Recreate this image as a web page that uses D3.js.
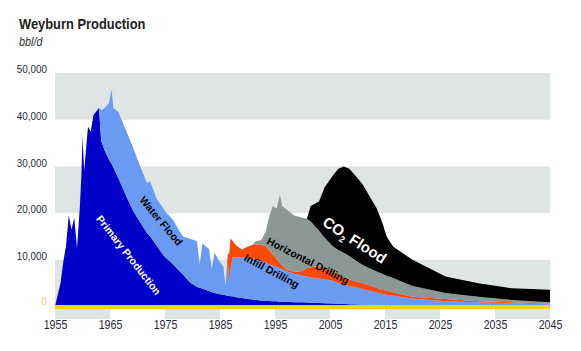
<!DOCTYPE html>
<html>
<head>
<meta charset="utf-8">
<script src="https://cdn.jsdelivr.net/npm/d3@7"></script>
<style>
  body { margin: 0; background: #fff; }
  svg { display: block; }
</style>
</head>
<body>
<svg class="chart" width="581" height="351"></svg>
<script>
// years (irregular, follows the jagged outline)
const years = [
  1955, 1956, 1956.5, 1957, 1957.5, 1958, 1958.5, 1959, 1959.5, 1959.8,
  1960, 1960.3, 1961, 1961.5, 1962, 1963, 1963.4, 1964, 1964.8, 1965.3,
  1965.6, 1966.5, 1968, 1969.2, 1970.5, 1971.7, 1972.3, 1973.5, 1974.7, 1975.3,
  1976.5, 1977.7, 1978.3, 1979.5, 1980.8, 1981.3, 1981.8, 1983, 1983.5, 1984,
  1985, 1985.6, 1986, 1986.4, 1986.7, 1986.9, 1987.3, 1988, 1989, 1990,
  1991, 1991.5, 1992.5, 1993.3, 1994, 1994.6, 1995.3, 1995.9, 1996.3, 1997,
  1998.5, 2000, 2000.8, 2001.5, 2003, 2004, 2005.5, 2006.5, 2007.5, 2008.5,
  2010, 2011, 2012, 2013.5, 2014.5, 2015.3, 2016.5, 2020, 2026, 2032,
  2038, 2045
];

// bbl/d per layer (stacked bottom to top)
const primary = [
  0, 5000, 9500, 13000, 19500, 16500, 19000, 12500, 21000, 28000,
  36500, 29000, 38500, 37500, 41000, 42500, 35500, 33500, 31500, 30500,
  29800, 27500, 23500, 20500, 18000, 15800, 15000, 13000, 11000, 10300,
  9000, 7500, 6800, 5200, 4200, 4000, 3800, 3300, 3100, 2900,
  2600, 2500, 2400, 2300, 2300, 2200, 2200, 2000, 1800, 1600,
  1500, 1400, 1300, 1200, 1200, 1100, 1100, 1000, 1000, 1000,
  900, 900, 850, 800, 750, 700, 650, 600, 550, 500,
  450, 400, 350, 300, 280, 250, 220, 150, 80, 40,
  20, 0
];
const waterFlood = [
  0, 0, 0, 0, 0, 0, 0, 0, 0, 0,
  0, 0, 0, 0, 0, 0, 6500, 9000, 12000, 16000,
  12700, 14200, 14000, 13500, 12000, 10700, 11800, 10000, 10000, 9700,
  9500, 8500, 8200, 9300, 9800, 5000, 9700, 9000, 4900, 8600,
  6900, 6100, 2100, 7200, 3200, 5800, 8300, 8500, 8700, 8800,
  8800, 8700, 8400, 8200, 7800, 7700, 7400, 7200, 7000, 6600,
  6100, 5700, 5550, 5400, 5250, 5100, 4850, 4400, 4150, 3900,
  3550, 3300, 3050, 2700, 2420, 2250, 2080, 1550, 1020, 860,
  680, 500
];
const infillDrilling = [
  0, 0, 0, 0, 0, 0, 0, 0, 0, 0,
  0, 0, 0, 0, 0, 0, 0, 0, 0, 0,
  0, 0, 0, 0, 0, 0, 0, 0, 0, 0,
  0, 0, 0, 0, 0, 0, 0, 0, 0, 0,
  0, 0, 0, 1500, 6000, 6600, 3500, 2500, 1700, 2400,
  3000, 3200, 3500, 3500, 3000, 2400, 1700, 1100, 800, 400,
  400, 1000, 1800, 2200, 2600, 2400, 2100, 1800, 1600, 1400,
  1300, 1300, 1200, 1000, 900, 900, 700, 400, 500, 200,
  200, 100
];
const horizontalDrilling = [
  0, 0, 0, 0, 0, 0, 0, 0, 0, 0,
  0, 0, 0, 0, 0, 0, 0, 0, 0, 0,
  0, 0, 0, 0, 0, 0, 0, 0, 0, 0,
  0, 0, 0, 0, 0, 0, 0, 0, 0, 0,
  0, 0, 0, 0, 0, 0, 0, 0, 0, 0,
  0, 700, 1000, 3100, 7500, 10300, 10800, 14700, 12700, 12800,
  12100, 11400, 10600, 9800, 7600, 6600, 5300, 5300, 5200, 5000,
  4300, 3900, 3700, 3500, 3400, 3200, 3100, 2300, 1300, 1000,
  500, 300
];
const co2Flood = [
  0, 0, 0, 0, 0, 0, 0, 0, 0, 0,
  0, 0, 0, 0, 0, 0, 0, 0, 0, 0,
  0, 0, 0, 0, 0, 0, 0, 0, 0, 0,
  0, 0, 0, 0, 0, 0, 0, 0, 0, 0,
  0, 0, 0, 0, 0, 0, 0, 0, 0, 0,
  0, 0, 0, 0, 0, 0, 0, 0, 0, 0,
  0, 0, 0, 3300, 6300, 10700, 15100, 17400, 18500, 18700,
  17900, 17100, 15700, 13500, 11000, 8400, 6700, 5600, 3500, 2900,
  2500, 2700
];

const xTicks = [1955, 1965, 1975, 1985, 1995, 2005, 2015, 2025, 2035, 2045];
const yTicks = [0, 10000, 20000, 30000, 40000, 50000];

const keys = ["primary", "waterFlood", "infill", "horizontal", "co2"];
const colors = ["#0000c8", "#6a9bf2", "#fa4a0a", "#8c9896", "#000000"];

const table = years.map((yr, i) => ({
  year: yr,
  primary: primary[i],
  waterFlood: waterFlood[i],
  infill: infillDrilling[i],
  horizontal: horizontalDrilling[i],
  co2: co2Flood[i],
}));

const svg = d3.select(".chart");
const font = "'Liberation Sans', Arial, sans-serif";
const band = "#dfe5e4";

const x = d3.scaleLinear().domain([1955, 2045]).range([55, 550]);
const y = d3.scaleLinear().domain([0, 50000]).range([306.5, 73]);

// horizontal grey bands 0-10k, 20-30k, 40-50k
svg.append("g")
  .selectAll("rect")
  .data([0, 20000, 40000])
  .join("rect")
  .attr("x", x(1955))
  .attr("width", x(2045) - x(1955))
  .attr("y", (d) => y(d + 10000))
  .attr("height", (d) => y(d) - y(d + 10000))
  .attr("fill", band);

// little alternating boxes under the baseline
svg.append("g")
  .selectAll("rect")
  .data([1955, 1975, 1995, 2015, 2035])
  .join("rect")
  .attr("x", (d) => x(d))
  .attr("width", (d) => x(d + 10) - x(d))
  .attr("y", 309)
  .attr("height", 10)
  .attr("fill", band);

// stacked areas
const series = d3.stack().keys(keys)(table);
const area = d3.area()
  .x((d) => x(d.data.year))
  .y0((d) => y(d[0]))
  .y1((d) => y(d[1]))
  .curve(d3.curveLinear);

svg.append("g")
  .selectAll("path")
  .data(series)
  .join("path")
  .attr("d", area)
  .attr("fill", (d, i) => colors[i]);

// yellow zero line
svg.append("rect")
  .attr("x", x(1955))
  .attr("width", x(2045) - x(1955))
  .attr("y", y(0) - 1.5)
  .attr("height", 4)
  .attr("fill", "#f7d400");

// axes (text squeezed a bit, the original uses a narrow face)
const xAxis = svg.append("g")
  .attr("transform", `translate(0, 318)`)
  .call(d3.axisBottom(x).tickValues(xTicks).tickFormat(d3.format("d")).tickSize(0));
xAxis.select(".domain").remove();
xAxis.selectAll("text")
  .attr("dy", "0.71em")
  .attr("y", 2)
  .attr("transform", "scale(0.82,1)")
  .style("font-family", font)
  .style("font-size", "13px")
  .attr("fill", "#2b2b38");

const yAxis = svg.append("g")
  .attr("transform", `translate(47, 0)`)
  .call(d3.axisLeft(y).tickValues(yTicks).tickFormat(d3.format(",")).tickSize(0).tickPadding(0));
yAxis.select(".domain").remove();
yAxis.selectAll("text")
  .attr("y", (d) => (d === 0 ? -6 : -4))
  .attr("transform", "scale(0.86,1)")
  .style("font-family", font)
  .style("font-size", "11.5px")
  .attr("fill", (d) => (d === 0 ? "#f2d565" : "#2b2b38"));

// title
svg.append("text")
  .attr("transform", "translate(19, 29) scale(0.86, 1)")
  .style("font-family", font)
  .style("font-size", "15px")
  .style("font-weight", "bold")
  .attr("fill", "#222")
  .text("Weyburn Production");

svg.append("text")
  .attr("transform", "translate(19, 46) scale(0.9, 1)")
  .style("font-family", font)
  .style("font-size", "12px")
  .style("font-style", "italic")
  .attr("fill", "#333")
  .text("bbl/d");

// labels inside the areas
function areaLabel(text, year, val, angle, color, size) {
  return svg.append("text")
    .attr("transform", `translate(${x(year)}, ${y(val)}) rotate(${angle})`)
    .attr("text-anchor", "middle")
    .attr("dy", "0.35em")
    .style("font-family", font)
    .style("font-size", size + "px")
    .style("font-weight", "bold")
    .attr("fill", color)
    .text(text);
}

areaLabel("Primary Production", 1968.4, 11000, 52, "#fff", 10.5);
areaLabel("Water Flood", 1974.3, 18300, 50, "#000", 10.5);
areaLabel("Infill Drilling", 1994.4, 7600, 28, "#000", 10.5);
areaLabel("Horizontal Drilling", 2001, 9800, 27, "#000", 10.5);

const co2 = areaLabel("", 2009.5, 14200, 33, "#fff", 15);
co2.append("tspan").text("CO");
co2.append("tspan").attr("font-size", "9px").attr("dy", "4").text("2");
co2.append("tspan").attr("dy", "-4").text(" Flood");
</script>
</body>
</html>
